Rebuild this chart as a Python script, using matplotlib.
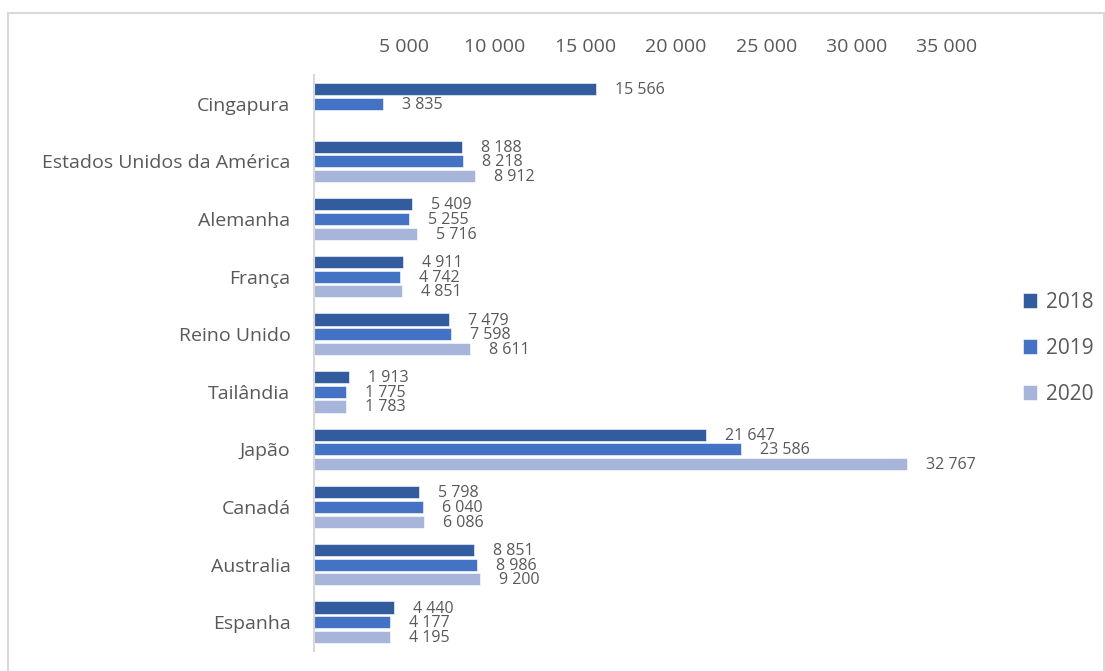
import numpy as np
import matplotlib.pyplot as plt
from matplotlib.patches import Rectangle

plt.rcParams['font.family'] = ['Open Sans', 'DejaVu Sans']

# data
countries = ['Cingapura', 'Estados Unidos da América', 'Alemanha', 'França', 'Reino Unido',
             'Tailândia', 'Japão', 'Canadá', 'Australia', 'Espanha']
years = ['2018', '2019', '2020']
v2018 = [15566, 8188, 5409, 4911, 7479, 1913, 21647, 5798, 8851, 4440]
v2019 = [3835, 8218, 5255, 4742, 7598, 1775, 23586, 6040, 8986, 4177]
v2020 = [np.nan, 8912, 5716, 4851, 8611, 1783, 32767, 6086, 9200, 4195]
xticks = [5000, 10000, 15000, 20000, 25000, 30000, 35000]

colors = ['#335C9F', '#4472C4', '#A8B5DA']
txt = '#595959'


def fmt(v):
    return f'{int(v):,}'.replace(',', ' ')


fig = plt.figure(figsize=(11.05, 6.71), dpi=100)
ax = fig.add_axes([314 / 1105, 1 - 651 / 671, (947 - 314) / 1105, (651 - 75) / 671])

y = np.arange(len(countries))
off = 0.255
h = 0.21
for i, (vals, yr) in enumerate(zip([v2018, v2019, v2020], years)):
    pos = y + (i - 1) * off
    ax.barh(pos, vals, height=h, color=colors[i], edgecolor='white', linewidth=0.4, label=yr)
    for p, v in zip(pos, vals):
        if np.isnan(v):
            continue
        ax.annotate(fmt(v), (v, p), xytext=(19, -1), textcoords='offset pixels',
                    ha='left', va='center', fontsize=11.5, color=txt, annotation_clip=False)

ax.set_ylim(len(countries) - 0.5, -0.5)
ax.set_xlim(0, 35000)
ax.set_yticks(y)
ax.set_yticklabels(countries, fontsize=14, color=txt)
ax.xaxis.tick_top()
ax.set_xticks(xticks)
ax.set_xticklabels([fmt(t) for t in xticks], fontsize=14, color=txt)
ax.tick_params(length=0)
ax.tick_params(axis='x', pad=14)
ax.tick_params(axis='y', pad=17)
for s in ['top', 'right', 'bottom']:
    ax.spines[s].set_visible(False)
ax.spines['left'].set_color('#D9D9D9')
ax.spines['left'].set_linewidth(1.5)

fig.legend(loc='center left', bbox_to_anchor=(1004 / 1105, 1 - 348 / 671), frameon=False,
           fontsize=15, labelcolor=txt, handlelength=0.7, handleheight=0.7,
           handletextpad=0.4, labelspacing=1.2)

# light frame around the chart area
fig.patches.append(Rectangle((8 / 1105, -0.02), 1096 / 1105, 1 - 13 / 671 + 0.02,
                             transform=fig.transFigure, fill=False,
                             edgecolor='#D9D9D9', linewidth=1.5))

fig.savefig('out.png', dpi=100)
